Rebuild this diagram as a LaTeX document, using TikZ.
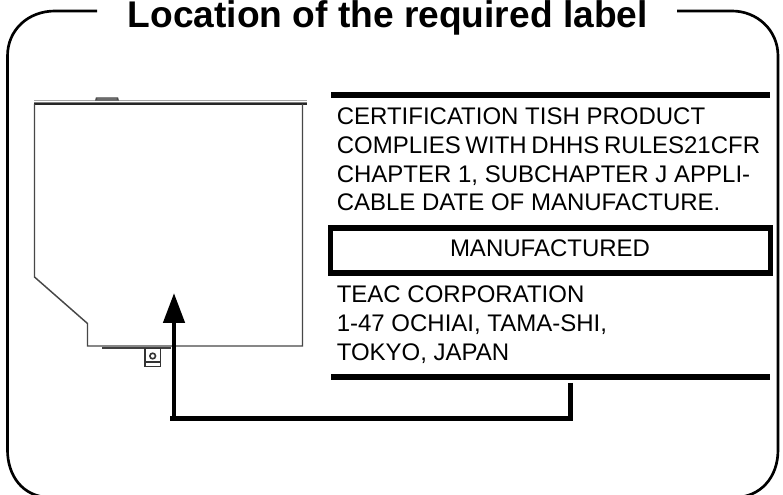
\documentclass[tikz,border=0pt]{standalone}
\usepackage{fontspec}
\setmainfont{Liberation Sans}
\usetikzlibrary{arrows.meta}
\tikzset{
  px/.style={x=0.75pt,y=-0.75pt},
  frameline/.style={draw=black,line width=2pt,line cap=butt},
  titletext/.style={anchor=base,inner sep=0pt,font=\bfseries\fontsize{27.85}{30}\selectfont},
  labeltext/.style={anchor=base west,inner sep=0pt,font=\fontsize{18}{21}\selectfont},
  rulebar/.style={draw=black,line width=4.4pt},
  drive/.style={draw=black!72,line width=1.1pt},
  pointer/.style={draw=black,line width=3.9pt},
}
\begin{document}
\begin{tikzpicture}[px]
\useasboundingbox (0,0) rectangle (783,495);
\fill[white] (0,0) rectangle (783,495);
% title and frame
\node[titletext] (title) at (387.7,27.8) {Location of the required label};
\coordinate (fa) at (97,11);
\coordinate (fb) at (677,11);
\draw[frameline] (fa) -- (55,11) .. controls (28,11) and (7.5,30) .. (7.5,56)
  -- (7.5,450) .. controls (7.5,475) and (22,497) .. (50,497.5) -- (735,497.5)
  .. controls (760,497) and (778,478) .. (778,450) -- (778,56)
  .. controls (778,30) and (757,11) .. (732,11) -- (fb);
% drive
\draw[draw=black!35,line width=1pt] (34,100.5) -- (306.5,100.5);
\draw[draw=black!85,line width=1.4pt] (34,104.3) -- (306.5,104.3);
\draw[draw=black!50,line width=.7pt] (34,102.3) -- (306.5,102.3);
\draw[draw=black!70,fill=black!35,line width=1.1pt] (96,100) -- (96.5,98) -- (117.5,98) -- (118,100) -- cycle;
\draw[drive] (34.5,104) -- (34.5,277) -- (87.5,323.5) -- (87.5,346) -- (302.5,346) -- (302.5,104);
\draw[draw=black!75,line width=1.6pt] (102,347.8) -- (171,347.8);
\draw[draw=black!80,fill=white,line width=1.2pt] (145,348.5) rectangle (160.3,366.5);
\draw[draw=black!80,line width=.9pt] (145,362) -- (160.3,362);
\draw[draw=black!80,line width=1.2pt] (152.7,356) circle (2.8);
% label block
\draw[rulebar] (331,95) -- (770,95);
\draw[draw=black,line width=4.1pt] (330.7,227.8) rectangle (770.3,273);
\draw[rulebar] (331,376.7) -- (770,376.7);
\node[labeltext] (l1) at (336.5,124.3) {CERTIFICATION TISH PRODUCT};
\node[labeltext] (l2) at (336.5,153.3) {COMPLIES\hspace{-1.5pt} WITH\hspace{-1.5pt} DHHS\hspace{-1.5pt} RULES21CFR};
\node[labeltext] (l3) at (336.5,182.3) {CHAPTER 1, SUBCHAPTER J APPLI-};
\node[labeltext] (l4) at (336.5,211) {CABLE DATE OF MANUFACTURE.};
\node[labeltext,anchor=base] (m) at (550,256.7) {MANUFACTURED};
\node[labeltext] (t1) at (336.5,302.7) {TEAC CORPORATION};
\node[labeltext] (t2) at (336.5,331.7) {1-47 OCHIAI, TAMA-SHI,};
\node[labeltext] (t3) at (336.5,360.5) {TOKYO, JAPAN};
% pointer
\coordinate (ps) at (570.5,383);
\coordinate (pc) at (570.5,418.3);
\coordinate (pe) at (170,418.3);
\coordinate (as) at (174,416);
\coordinate (at) at (174,293);
\draw[pointer] (ps) -- (pc) -- (pe);
\draw[draw=black,line width=3.5pt,-{Triangle[length=30*0.75pt,width=21*0.75pt]}] (as) -- (at);
\end{tikzpicture}
\end{document}
